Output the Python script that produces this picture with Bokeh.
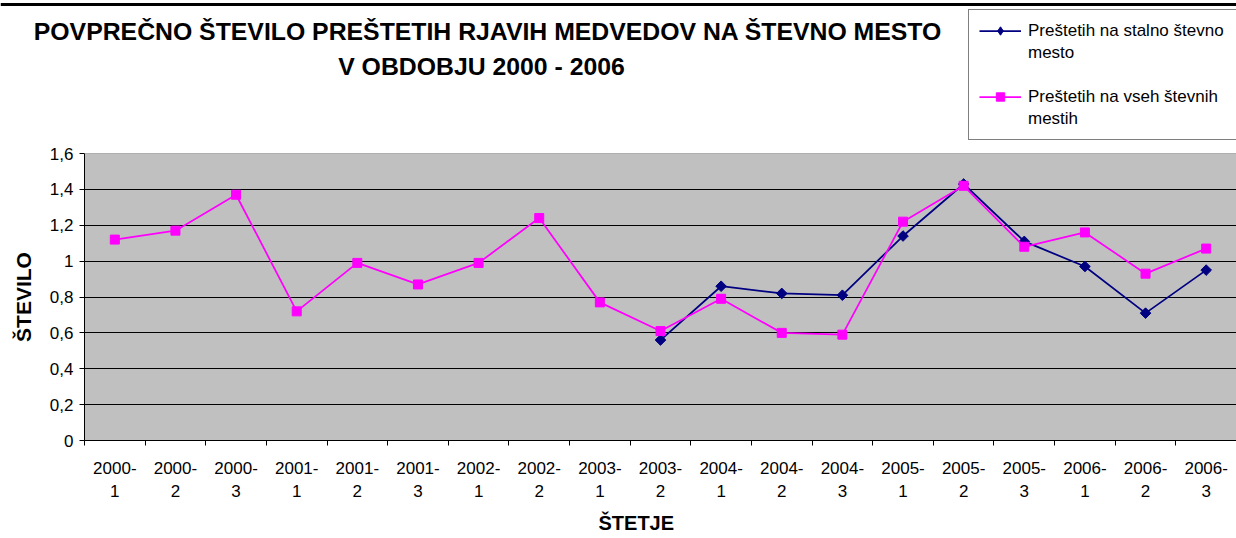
from bokeh.plotting import figure
from bokeh.layouts import column
from bokeh.models import (Range1d, FixedTicker, Legend, LegendItem, Title, Span)
from bokeh.core.properties import value
from bokeh.embed import file_html
from bokeh.resources import INLINE
import math

categories = ["2000-\n1", "2000-\n2", "2000-\n3", "2001-\n1", "2001-\n2", "2001-\n3",
              "2002-\n1", "2002-\n2", "2003-\n1", "2003-\n2", "2004-\n1", "2004-\n2",
              "2004-\n3", "2005-\n1", "2005-\n2", "2005-\n3", "2006-\n1", "2006-\n2",
              "2006-\n3"]
nan = float("nan")
stalno = [nan, nan, nan, nan, nan, nan, nan, nan, nan,
          0.56, 0.86, 0.82, 0.81, 1.14, 1.43, 1.11, 0.97, 0.71, 0.95]
vse = [1.12, 1.17, 1.37, 0.72, 0.99, 0.87, 0.99, 1.24, 0.77,
       0.61, 0.79, 0.60, 0.59, 1.22, 1.42, 1.08, 1.16, 0.93, 1.07]
y_ticks = [0, 0.2, 0.4, 0.6, 0.8, 1, 1.2, 1.4, 1.6]
y_labels = ["0", "0,2", "0,4", "0,6", "0,8", "1", "1,2", "1,4", "1,6"]
series_names = [["Preštetih na stalno števno", "mesto"],
                ["Preštetih na vseh števnih", "mestih"]]
title_lines = ["POVPREČNO ŠTEVILO PREŠTETIH RJAVIH MEDVEDOV NA ŠTEVNO MESTO",
               "V OBDOBJU 2000 - 2006"]
x_title = "ŠTETJE"
y_title = "ŠTEVILO"

FONT = "Liberation Sans"
W, H = 1236, 538
TOP_H = 140
n = len(categories)
xs = [i + 0.5 for i in range(n)]
NAVY, MAGENTA = "#000080", "#FF00FF"

# ---------------- header (title + legend) ----------------
top = figure(width=W, height=TOP_H, output_backend="svg", toolbar_location=None,
             x_range=Range1d(0, W), y_range=Range1d(TOP_H, 0),
             x_axis_type=None, y_axis_type=None, min_border=0)
top.frame_align = False
top.outline_line_color = None
top.background_fill_color = "white"
top.border_fill_color = "white"
top.grid.visible = False
top.add_layout(Span(location=4, dimension="width", line_color="black", line_width=3))

for txt, cx, cy in [(title_lines[0], 487.5, 31), (title_lines[1], 481, 66)]:
    top.text(x=[cx], y=[cy], text=[txt], text_font=value(FONT), text_font_size="24.8px",
             text_font_style="bold", text_align="center", text_baseline="middle",
             text_color="black")

# legend keys: hidden copies of the series styles (not drawn in the header)
k1 = top.line(xs, vse, line_color=NAVY, line_width=1.75, visible=False)
k1m = top.scatter(xs, vse, marker="diamond", size=11,
                  fill_color=NAVY, line_color=NAVY, visible=False)
k2 = top.line(xs, vse, line_color=MAGENTA, line_width=1.75, visible=False)
k2m = top.scatter(xs, vse, marker="square", size=9, fill_color=MAGENTA, line_color=MAGENTA,
                  visible=False)
blank = top.line([], [], line_alpha=0)

legend = Legend(items=[LegendItem(label=series_names[0][0], renderers=[k1, k1m]),
                       LegendItem(label=series_names[0][1], renderers=[blank]),
                       LegendItem(label=" ", renderers=[blank]),
                       LegendItem(label=series_names[1][0], renderers=[k2, k2m]),
                       LegendItem(label=series_names[1][1], renderers=[blank])],
                location=(968, 0), orientation="vertical")
legend.label_text_font = FONT
legend.label_text_font_size = "17px"
legend.label_text_color = "black"
legend.glyph_width = 42
legend.glyph_height = 21
legend.label_height = 21
legend.label_width = 210
legend.label_standoff = 7
legend.padding = 10
legend.spacing = 1
legend.margin = 0
legend.border_line_color = "black"
legend.border_line_width = 1
legend.background_fill_color = "white"
legend.background_fill_alpha = 1
legend.inactive_fill_alpha = 0
top.add_layout(legend, "center")

# ---------------- chart ----------------
p = figure(width=W, height=H - TOP_H, output_backend="svg", toolbar_location=None,
           x_range=Range1d(0, n), y_range=Range1d(0, y_ticks[-1]),
           min_border_left=84, min_border_right=0, min_border_top=13, min_border_bottom=98)
p.frame_align = False
p.background_fill_color = "#C0C0C0"
p.border_fill_color = "white"
p.outline_line_color = None
p.add_layout(Span(location=y_ticks[-1], dimension="width", line_color="#808080", line_width=1))

p.xaxis.ticker = FixedTicker(ticks=xs, minor_ticks=list(range(n + 1)))
p.xaxis.major_label_overrides = {x: c for x, c in zip(xs, categories)}
p.xaxis.major_tick_out = 0
p.xaxis.major_tick_in = 0
p.xaxis.minor_tick_out = 5
p.xaxis.minor_tick_in = 0
p.xaxis.minor_tick_line_color = "black"
p.xaxis.axis_line_color = "black"
p.xaxis.major_label_text_font = FONT
p.xaxis.major_label_text_font_size = "17px"
p.xaxis.major_label_text_color = "black"
p.xaxis.major_label_text_line_height = 1.25
p.xaxis.major_label_standoff = 13

p.yaxis.ticker = FixedTicker(ticks=y_ticks)
p.yaxis.major_label_overrides = {t: l for t, l in zip(y_ticks, y_labels)}
p.yaxis.major_tick_out = 5
p.yaxis.major_tick_in = 0
p.yaxis.minor_tick_line_color = None
p.yaxis.axis_line_color = "black"
p.yaxis.major_tick_line_color = "black"
p.yaxis.major_label_text_font = FONT
p.yaxis.major_label_text_font_size = "17px"
p.yaxis.major_label_text_color = "black"
p.yaxis.major_label_standoff = 6
p.yaxis.axis_label = y_title
p.yaxis.axis_label_text_font = FONT
p.yaxis.axis_label_text_font_size = "21px"
p.yaxis.axis_label_text_font_style = "bold"
p.yaxis.axis_label_text_color = "black"
p.yaxis.axis_label_standoff = 12

p.xgrid.grid_line_color = None
p.ygrid.ticker = FixedTicker(ticks=y_ticks[1:-1])
p.ygrid.grid_line_color = "black"
p.ygrid.grid_line_width = 1

p.add_layout(Title(text=x_title, align="left", offset=514, standoff=10,
                   text_font=FONT, text_font_size="20px", text_font_style="bold",
                   text_color="black"), "below")

p.line(xs, stalno, line_color=NAVY, line_width=1.75)
p.scatter(xs, stalno, marker="square", angle=math.pi / 4, size=7.5,
          fill_color=NAVY, line_color=NAVY)
p.line(xs, vse, line_color=MAGENTA, line_width=1.75)
p.scatter(xs, vse, marker="square", size=9, fill_color=MAGENTA, line_color=MAGENTA)

layout = column(top, p, spacing=0)
open("out.html", "w").write(file_html(layout, INLINE))
